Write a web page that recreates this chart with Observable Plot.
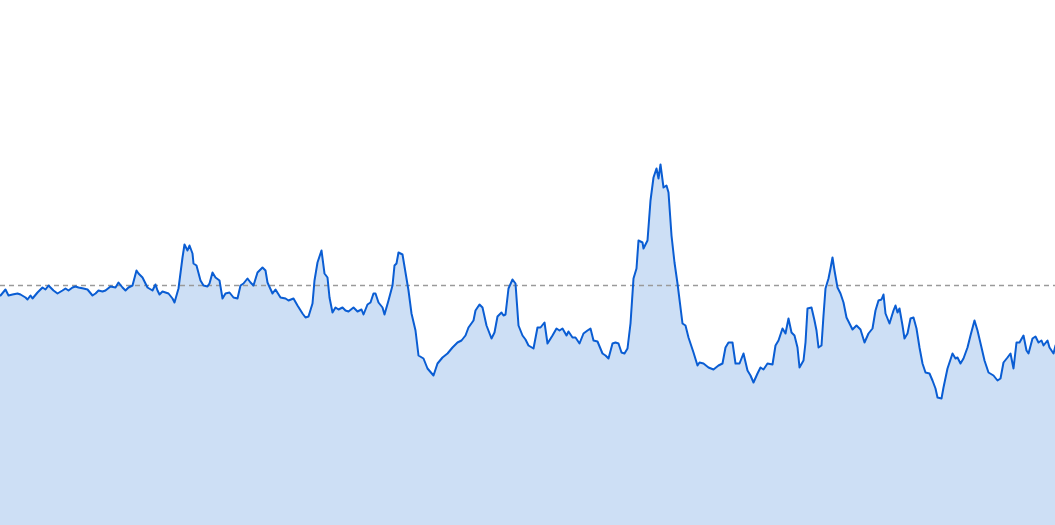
<!DOCTYPE html>
<html>
<head>
<meta charset="utf-8">
<script src="https://cdn.jsdelivr.net/npm/d3@7"></script>
<script src="https://cdn.jsdelivr.net/npm/@observablehq/plot@0.6"></script>
<style>
  html, body { margin: 0; padding: 0; background: #ffffff; overflow: hidden; }
  #chart svg { display: block; }
</style>
</head>
<body>
<div id="chart"></div>
<script>
const days = [0,5,8,12,17,20,25,27,30,32,37,42,45,48,53,57,62,65,68,72,75,78,83,87,92,95,98,102,105,110,115,118,122,125,128,132,136,138,142,147,152,155,157,159,162,165,168,172,174,178,182,184,187,189,192,193,196,200,203,207,209,212,215,219,222,225,229,233,237,240,243,247,250,253,257,262,265,267,272,275,280,285,288,293,297,302,305,308,312,314,317,321,324,327,329,332,335,338,342,345,348,353,357,361,363,367,370,373,375,378,382,384,388,392,394,396,398,402,405,408,411,415,418,423,427,433,437,442,447,452,457,461,465,468,473,475,479,482,486,491,494,497,501,503,505,508,512,515,518,522,525,528,533,537,540,544,547,552,556,559,562,566,568,572,575,579,583,587,590,593,597,602,605,608,612,615,618,621,624,627,630,633,636,638,642,643,647,650,653,656,658,660,663,666,668,671,674,677,682,685,688,693,697,699,703,708,713,718,722,725,728,732,735,739,743,747,750,753,757,760,763,767,772,775,778,782,785,788,791,794,797,799,803,805,807,811,814,816,818,821,823,825,828,830,832,834,837,840,843,846,849,852,856,860,864,868,872,875,878,881,883,885,889,893,895,897,899,902,904,907,910,913,916,919,922,925,929,932,935,937,941,943,947,952,955,957,960,963,967,970,974,977,981,984,988,993,997,1000,1003,1007,1010,1013,1016,1019,1023,1026,1028,1032,1035,1038,1041,1043,1047,1049,1053,1055];
const values = [230,236,230,231,232,231,228,226,230,227,233,238,236,240,235,232,235,237,235,238,239,238,237,236,230,232,235,234,235,239,238,243,238,235,238,240,255,252,248,238,235,241,235,231,234,233,232,227,223,237,268,281,275,280,272,262,260,245,240,239,242,253,248,245,227,232,233,228,227,240,242,247,243,240,253,258,255,243,232,236,228,227,225,227,220,212,208,209,222,245,263,275,252,248,228,213,218,216,218,215,214,218,214,216,211,221,223,232,232,223,218,211,225,240,260,262,273,271,253,235,212,195,170,167,157,150,162,168,172,178,183,185,190,198,205,215,221,218,200,187,193,209,213,210,211,237,246,242,200,190,186,180,177,198,198,203,182,190,197,195,197,190,194,188,188,182,192,195,197,185,184,172,170,167,182,183,182,173,172,177,202,247,257,285,283,277,285,325,348,357,347,361,338,340,333,290,263,242,202,200,188,173,160,163,162,158,156,160,162,178,183,183,162,162,172,155,150,143,152,158,156,162,161,180,185,197,192,207,193,190,178,158,165,183,217,218,205,195,178,180,210,237,247,257,268,255,238,232,223,208,202,196,200,196,183,192,197,215,225,226,231,212,202,215,220,213,217,200,187,192,207,208,197,178,162,153,152,145,137,128,127,138,157,172,167,168,162,167,178,190,205,195,178,165,153,150,145,147,163,168,172,157,183,183,190,175,172,187,189,183,185,180,185,178,172,180];
const reference = [240];

const data = days.map((d, i) => ({day: d, value: values[i]}));

const chart = Plot.plot({
  width: 1055,
  height: 525,
  marginTop: 0,
  marginRight: 0,
  marginBottom: 0,
  marginLeft: 0,
  x: {domain: [0, 1055], axis: null},
  y: {domain: [0, 525], axis: null},
  style: {background: "#ffffff"},
  marks: [
    Plot.areaY(data, {x: "day", y: "value", fill: "#cddff5", curve: "linear"}),
    Plot.ruleY(reference, {stroke: "#9a9a9a", strokeWidth: 1.5, strokeDasharray: "5,4"}),
    Plot.lineY(data, {x: "day", y: "value", stroke: "#0a5dd3", strokeWidth: 2, curve: "linear"})
  ]
});
document.getElementById("chart").appendChild(chart);
</script>
</body>
</html>
